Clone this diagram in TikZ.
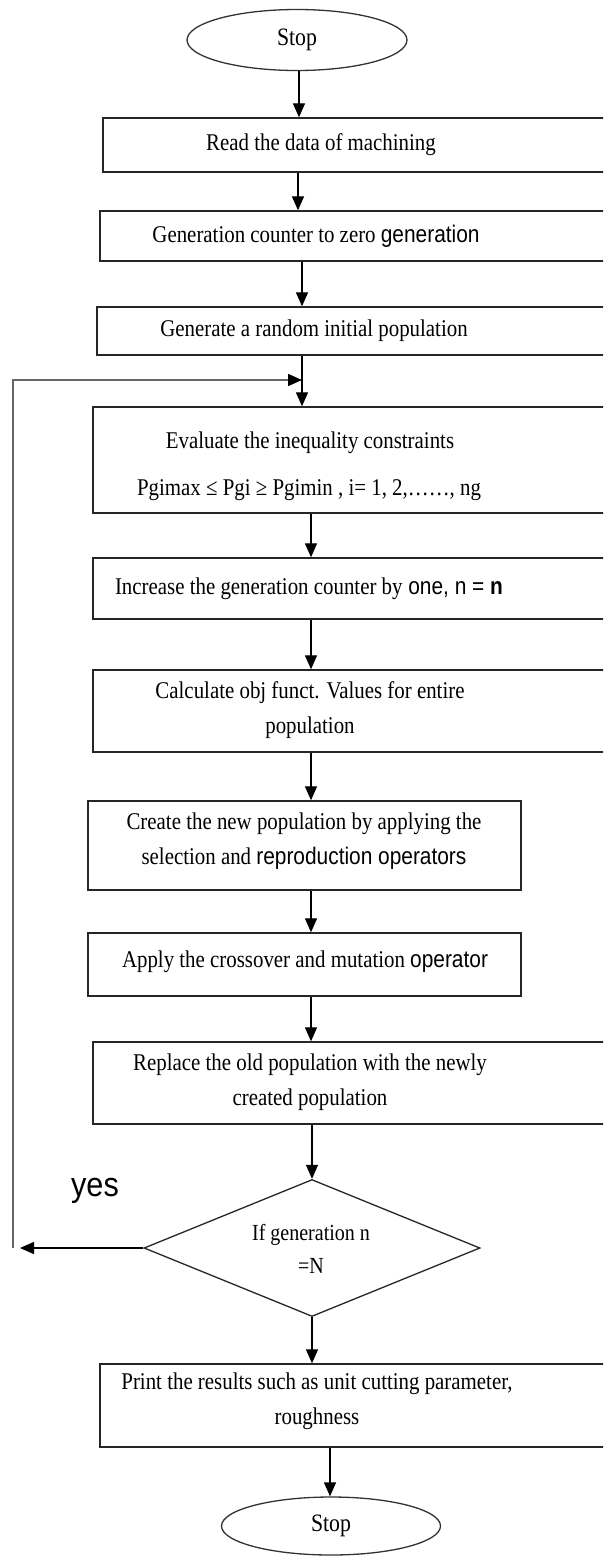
\documentclass[tikz,border=0pt]{standalone}
\usepackage{fontspec}
\setmainfont[FakeStretch=0.87]{Liberation Serif}
\newfontfamily\yesfont[FakeStretch=0.9]{Liberation Sans}
\newfontfamily\nsans[FakeStretch=0.87]{Liberation Sans}
\usetikzlibrary{shapes.geometric,arrows.meta}
\begin{document}
\begin{tikzpicture}[x=1pt,y=-1pt,
 box/.style={draw=black!85, line width=1.4pt, rectangle, inner sep=0pt},
 txt/.style={font=\fontsize{24}{35}\selectfont, inner sep=0pt, align=center},
 term/.style={draw=black!80, line width=1.3pt, ellipse, inner sep=0pt, font=\fontsize{25}{30}\selectfont},
 decis/.style={draw=black!85, line width=1.3pt, diamond, inner sep=0pt},
 arr/.style={line width=1.3pt, -{Triangle[length=14pt,width=12pt]}},
 looparr/.style={line width=1.5pt, draw=black!60, -{Triangle[length=14pt,width=12pt,fill=black,color=black]}},
]
\useasboundingbox (0,0) rectangle (603,1556);
\clip (0,0) rectangle (603,1556);
\fill[white] (0,0) rectangle (603,1556);

% shapes
\node[term, minimum width=220pt, minimum height=61pt] (e1) at (297,40) {Stop};
\node[box, minimum width=547pt, minimum height=54pt] (b1) at (376.5,145) {};
\node[box, minimum width=550pt, minimum height=50pt] (b2) at (375,236) {};
\node[box, minimum width=553pt, minimum height=48pt] (b3) at (373.5,331) {};
\node[box, minimum width=557pt, minimum height=106pt] (b4) at (371.5,460) {};
\node[box, minimum width=557pt, minimum height=61pt] (b5) at (371.5,588.5) {};
\node[box, minimum width=557pt, minimum height=82pt] (b6) at (371.5,711) {};
\node[box, minimum width=433pt, minimum height=89pt] (b7) at (304.5,845.5) {};
\node[box, minimum width=433pt, minimum height=63pt] (b8) at (304.5,964.5) {};
\node[box, minimum width=557pt, minimum height=82pt] (b9) at (371.5,1083) {};
\node[decis, minimum width=336pt, minimum height=137pt] (dec) at (312,1248) {};
\node[box, minimum width=550pt, minimum height=83pt] (b10) at (375,1405.5) {};
\node[term, minimum width=219pt, minimum height=58pt] (e2) at (331,1526) {Stop};

% texts
\node[txt] (t1) at (321,145) {Read the data of machining};
\node[txt] (t2) at (316,236) {Generation counter to zero {\nsans generation}};
\node[txt] (t3) at (314,331) {Generate a random initial population};
\node[txt] (t4a) at (310,443) {Evaluate the inequality constraints};
\node[txt] (t4b) at (309,490) {Pgimax ≤ Pgi ≥ Pgimin , i= 1, 2,……, ng};
\node[txt] (t5) at (309,589) {Increase the generation counter by{\nsans\ one, n = \bfseries n}};
\node[txt] (t6) at (310,710) {Calculate obj funct. Values for entire\\population};
\node[txt] (t7) at (304,841) {Create the new population by applying the\\selection and {\nsans reproduction operators}};
\node[txt] (t8) at (305,962) {Apply the crossover and mutation {\nsans operator}};
\node[txt] (t9) at (310,1082.5) {Replace the old population with the newly\\created population};
\node[txt, font=\fontsize{23}{33}\selectfont] (tdec) at (311,1248.5) {If generation n\\=N};
\node[txt] (t10) at (317,1401.5) {Print the results such as unit cutting parameter,\\roughness};
\node[inner sep=0pt, font=\yesfont\fontsize{34}{40}\selectfont] (yes) at (95,1191) {yes};

% connectors
\draw[arr] (e1.south -| 299,0) -- (b1.north -| 299,0);
\draw[arr] (b1.south -| 298,0) -- (b2.north -| 298,0);
\draw[arr] (b2.south -| 302,0) -- (b3.north -| 302,0);
\draw[arr] (b3.south -| 302,0) -- (b4.north -| 302,0);
\draw[arr] (b4.south -| 311,0) -- (b5.north -| 311,0);
\draw[arr] (b5.south -| 311,0) -- (b6.north -| 311,0);
\draw[arr] (b6.south -| 311,0) -- (b7.north -| 311,0);
\draw[arr] (b7.south -| 311,0) -- (b8.north -| 311,0);
\draw[arr] (b8.south -| 311,0) -- (b9.north -| 311,0);
\draw[arr] (b9.south -| 312,0) -- (dec.north);
\draw[arr] (dec.south) -- (b10.north -| 312,0);
\draw[arr] (b10.south -| 330,0) -- (e2.north -| 330,0);

\coordinate (yesend) at (20,1248);
\draw[arr] (dec.west) -- (yesend);
\coordinate (loopstart) at (13,1248);
\coordinate (merge) at (302,380);
\draw[looparr] (loopstart) |- (merge);
\end{tikzpicture}
\end{document}
